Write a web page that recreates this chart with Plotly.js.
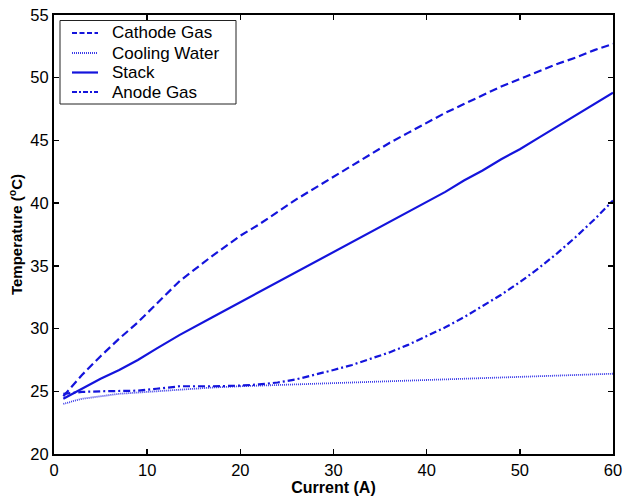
<!DOCTYPE html>
<html>
<head>
<meta charset="utf-8">
<script src="https://cdn.plot.ly/plotly-3.0.1.min.js"></script>
<style>html,body{margin:0;padding:0;background:#fff;}#chart{width:624px;height:497px;}</style>
</head>
<body>
<div id="chart"></div>
<script>
const current = [1, 3, 5, 7, 9, 11, 13.5, 17, 20, 22, 24, 26, 28, 30, 32, 34, 36, 38, 40, 42, 44, 46, 48, 50, 52, 54, 56, 58, 60];
const cathodeGas = [24.6, 26.3, 27.8, 29.2, 30.5, 32.0, 33.8, 35.8, 37.4, 38.3, 39.3, 40.3, 41.2, 42.1, 43.0, 43.9, 44.8, 45.6, 46.4, 47.2, 47.9, 48.6, 49.3, 49.9, 50.5, 51.1, 51.6, 52.2, 52.7];
const coolingWater = [24.0, 24.4, 24.6, 24.8, 24.9, 25.0, 25.15, 25.3, 25.4, 25.45, 25.5, 25.55, 25.6, 25.65, 25.7, 25.75, 25.8, 25.85, 25.9, 25.95, 26.0, 26.05, 26.1, 26.15, 26.2, 26.25, 26.3, 26.35, 26.4];
const stack = [24.4, 25.2, 26.0, 26.7, 27.5, 28.4, 29.5, 30.9, 32.1, 32.9, 33.7, 34.5, 35.3, 36.1, 36.9, 37.7, 38.5, 39.3, 40.1, 40.9, 41.8, 42.6, 43.5, 44.3, 45.2, 46.1, 47.0, 47.9, 48.8];
const anodeGas = [24.8, 24.95, 25.0, 25.0, 25.05, 25.2, 25.4, 25.4, 25.45, 25.55, 25.7, 25.95, 26.3, 26.7, 27.1, 27.6, 28.1, 28.7, 29.4, 30.1, 30.9, 31.8, 32.7, 33.7, 34.8, 36.0, 37.3, 38.7, 40.2];
const seriesNames = ['Cathode Gas', 'Cooling Water', 'Stack', 'Anode Gas'];

const blue = '#1414dc';
const lineStyles = [
  {color: blue, width: 2.2, dash: '8px,4px'},
  {color: '#3c3ce8', width: 1.8, dash: '1px,1px'},
  {color: blue, width: 2.2},
  {color: blue, width: 2.2, dash: '7px,3px,2px,3px'}
];
const seriesY = [cathodeGas, coolingWater, stack, anodeGas];
const traces = seriesY.map((ys, i) => ({x: current, y: ys, name: seriesNames[i], mode: 'lines', line: lineStyles[i], showlegend: false}));

const W = 624, H = 497;
const M = {l: 54, r: 11, t: 15, b: 43};
const pw = W - M.l - M.r, ph = H - M.t - M.b;
const px = v => (v - M.l) / pw;
const py = v => (H - M.b - v) / ph;

const font = {family: 'Liberation Sans, Arial, sans-serif', color: '#000'};
const shapes = [
  {type: 'rect', xref: 'paper', yref: 'paper', x0: px(60), x1: px(236), y0: py(104), y1: py(20.5),
   line: {color: '#222', width: 1}, fillcolor: '#fff', layer: 'above'}
];
const annotations = [];
const rows = [33, 53, 72.5, 92];
seriesNames.forEach((nm, i) => {
  const ls = Object.assign({}, lineStyles[i]);
  if (i === 0) ls.dash = '5px,2.5px';
  if (i === 3) ls.dash = '5px,2px,2px,2px';
  shapes.push({type: 'line', xref: 'paper', yref: 'paper', x0: px(72), x1: px(98), y0: py(rows[i]), y1: py(rows[i]), line: ls, layer: 'above'});
  annotations.push({xref: 'paper', yref: 'paper', x: px(110), y: py(rows[i]), xanchor: 'left', yanchor: 'middle',
    text: nm, showarrow: false, font: Object.assign({size: 17}, font)});
});

const layout = {
  width: W, height: H,
  margin: M,
  paper_bgcolor: '#fff', plot_bgcolor: '#fff',
  font: Object.assign({size: 16}, font),
  showlegend: false,
  shapes: shapes,
  annotations: annotations,
  xaxis: {
    range: [0, 60], tickvals: [0, 10, 20, 30, 40, 50, 60], ticks: 'inside', ticklen: 5, tickwidth: 1.5, tickcolor: '#000',
    showline: true, linecolor: '#000', linewidth: 2, mirror: 'ticks', showgrid: false, zeroline: false,
    tickfont: Object.assign({size: 16.5}, font), automargin: false,
    title: {text: '<b>Current (A)</b>', font: Object.assign({size: 16}, font), standoff: 0}
  },
  yaxis: {
    range: [20, 55], tickvals: [20, 25, 30, 35, 40, 45, 50, 55], ticks: 'inside', ticklen: 5, tickwidth: 1.5, tickcolor: '#000',
    showline: true, linecolor: '#000', linewidth: 2, mirror: 'ticks', showgrid: false, zeroline: false,
    tickfont: Object.assign({size: 16.5}, font), automargin: false,
    title: {text: '<b>Temperature (<sup>o</sup>C)</b>', font: Object.assign({size: 15}, font), standoff: 4}
  }
};
Plotly.newPlot('chart', traces, layout, {staticPlot: true, displayModeBar: false});
</script>
</body>
</html>
